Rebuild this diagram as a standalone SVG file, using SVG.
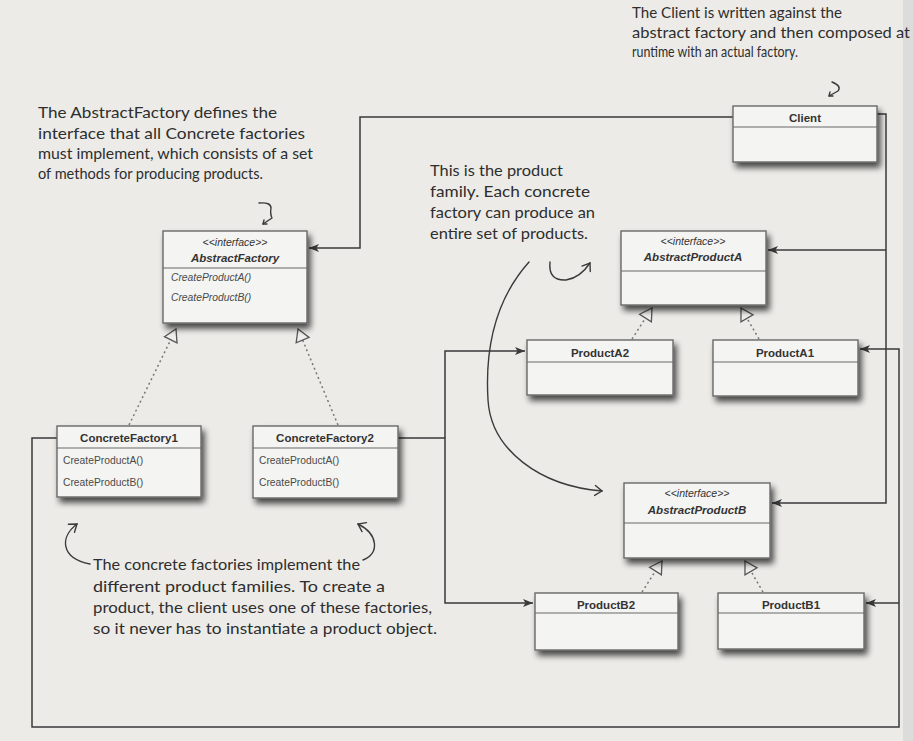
<svg xmlns="http://www.w3.org/2000/svg" width="913" height="741" viewBox="0 0 913 741">
<defs>
<filter id="sh" x="-10%" y="-10%" width="130%" height="140%">
<feGaussianBlur in="SourceAlpha" stdDeviation="3"/>
<feOffset dx="3" dy="5" result="b"/>
<feComponentTransfer><feFuncA type="linear" slope="0.7"/></feComponentTransfer>
<feMerge><feMergeNode/><feMergeNode in="SourceGraphic"/></feMerge>
</filter>
<marker id="arr" markerUnits="userSpaceOnUse" markerWidth="12" markerHeight="10" refX="10" refY="4" orient="auto" overflow="visible">
<path d="M0,0 L10,4 L0,8 L2.5,4 z" fill="#3a3a3a"/>
</marker>
<marker id="tri" markerUnits="userSpaceOnUse" markerWidth="16" markerHeight="16" refX="12" refY="7" orient="auto" overflow="visible">
<path d="M0,0 L12,7 L0,14 z" fill="#eeeeec" stroke="#555" stroke-width="1.3"/>
</marker>
<marker id="hh" markerUnits="userSpaceOnUse" markerWidth="12" markerHeight="12" refX="0" refY="0" orient="auto" overflow="visible">
<path d="M-7,-5 L0,0 L-7,5" fill="none" stroke="#3a3a3a" stroke-width="1.4" stroke-linecap="round"/>
</marker>
</defs>
<style>
.box{fill:#f4f4f2;stroke:#686868;stroke-width:1.4;filter:url(#sh)}
.sep{stroke:#686868;stroke-width:1.2}
.ttl{font-family:"Liberation Sans",Arial,sans-serif;font-weight:bold;font-size:11.5px;fill:#333;text-anchor:middle}
.ster{font-family:"Liberation Sans",Arial,sans-serif;font-style:italic;font-size:10.5px;fill:#333;text-anchor:middle}
.aname{font-family:"Liberation Sans",Arial,sans-serif;font-style:italic;font-weight:bold;font-size:11.5px;fill:#333;text-anchor:middle}
.meth{font-family:"Liberation Sans",Arial,sans-serif;font-size:10.3px;fill:#4a4a4a}
.imeth{font-family:"Liberation Sans",Arial,sans-serif;font-style:italic;font-size:10.3px;fill:#4a4a4a}
.hand{font-family:"Lato","Open Sans",sans-serif;font-size:15px;fill:#2e2e2e}
.wire{fill:none;stroke:#3a3a3a;stroke-width:1.5}
.real{fill:none;stroke:#777;stroke-width:1.5;stroke-dasharray:2 3}
.pen{fill:none;stroke:#3a3a3a;stroke-width:1.4;stroke-linecap:round;stroke-linejoin:round}
</style>
<rect x="0" y="0" width="913" height="741" fill="#ecebe8"/>
<rect x="903" y="0" width="10" height="741" fill="#dcdcda"/>

<g id="connectors">
<path class="wire" d="M733,117 H360 V248 H309" marker-end="url(#arr)"/>
<path class="wire" d="M877,114 H886 V503 H772" marker-end="url(#arr)"/>
<path class="wire" d="M886,250 H768" marker-end="url(#arr)"/>
<path class="wire" d="M57,438 H32 V727 H899 V349 H860" marker-end="url(#arr)"/>
<path class="wire" d="M899,603 H866" marker-end="url(#arr)"/>
<path class="wire" d="M398,438 H445 V603 H533" marker-end="url(#arr)"/>
<path class="wire" d="M445,438 V351 H525" marker-end="url(#arr)"/>
<path class="real" d="M129,425 L176,329" marker-end="url(#tri)"/>
<path class="real" d="M338,425 L298,329" marker-end="url(#tri)"/>
<path class="real" d="M632,339 L652,308" marker-end="url(#tri)"/>
<path class="real" d="M759,339 L741,308" marker-end="url(#tri)"/>
<path class="real" d="M642,592 L662,561" marker-end="url(#tri)"/>
<path class="real" d="M763,592 L745,561" marker-end="url(#tri)"/>
</g>

<g id="Client">
<rect class="box" x="733" y="106" width="144" height="56"/>
<line class="sep" x1="733" y1="127" x2="877" y2="127"/>
<text class="ttl" x="805" y="122">Client</text>
</g>
<g id="AbstractFactory">
<rect class="box" x="163" y="231" width="144" height="92"/>
<line class="sep" x1="163" y1="268" x2="307" y2="268"/>
<text class="ster" x="235" y="246">&lt;&lt;interface&gt;&gt;</text>
<text class="aname" x="235" y="262">AbstractFactory</text>
<text class="imeth" x="171" y="281">CreateProductA()</text>
<text class="imeth" x="171" y="301">CreateProductB()</text>
</g>
<g id="AbstractProductA">
<rect class="box" x="621" y="231" width="145" height="74"/>
<line class="sep" x1="621" y1="271" x2="766" y2="271"/>
<text class="ster" x="693" y="245">&lt;&lt;interface&gt;&gt;</text>
<text class="aname" x="693" y="261">AbstractProductA</text>
</g>
<g id="ProductA2">
<rect class="box" x="527" y="340" width="146" height="55"/>
<line class="sep" x1="527" y1="362" x2="673" y2="362"/>
<text class="ttl" x="600" y="357">ProductA2</text>
</g>
<g id="ProductA1">
<rect class="box" x="713" y="340" width="145" height="56"/>
<line class="sep" x1="713" y1="362" x2="858" y2="362"/>
<text class="ttl" x="785" y="357">ProductA1</text>
</g>
<g id="ConcreteFactory1">
<rect class="box" x="57" y="426" width="144" height="71"/>
<line class="sep" x1="57" y1="448" x2="201" y2="448"/>
<text class="ttl" x="129" y="442">ConcreteFactory1</text>
<text class="meth" x="63" y="464">CreateProductA()</text>
<text class="meth" x="63" y="486">CreateProductB()</text>
</g>
<g id="ConcreteFactory2">
<rect class="box" x="253" y="426" width="145" height="72"/>
<line class="sep" x1="253" y1="448" x2="398" y2="448"/>
<text class="ttl" x="325" y="442">ConcreteFactory2</text>
<text class="meth" x="259" y="464">CreateProductA()</text>
<text class="meth" x="259" y="486">CreateProductB()</text>
</g>
<g id="AbstractProductB">
<rect class="box" x="624" y="483" width="146" height="75"/>
<line class="sep" x1="624" y1="523" x2="770" y2="523"/>
<text class="ster" x="697" y="497">&lt;&lt;interface&gt;&gt;</text>
<text class="aname" x="697" y="514">AbstractProductB</text>
</g>
<g id="ProductB2">
<rect class="box" x="535" y="593" width="143" height="57"/>
<line class="sep" x1="535" y1="613" x2="678" y2="613"/>
<text class="ttl" x="606" y="609">ProductB2</text>
</g>
<g id="ProductB1">
<rect class="box" x="718" y="593" width="146" height="56"/>
<line class="sep" x1="718" y1="613" x2="864" y2="613"/>
<text class="ttl" x="791" y="609">ProductB1</text>
</g>

<g id="note-abstractfactory">
<text class="hand" x="38" y="118" textLength="239" lengthAdjust="spacingAndGlyphs">The AbstractFactory defines the</text>
<text class="hand" x="38" y="139" textLength="267" lengthAdjust="spacingAndGlyphs">interface that all Concrete factories</text>
<text class="hand" x="38" y="159" textLength="275" lengthAdjust="spacingAndGlyphs">must implement, which consists of a set</text>
<text class="hand" x="38" y="179" textLength="225" lengthAdjust="spacingAndGlyphs">of methods for producing products.</text>
<path class="pen" d="M259,203 Q271,202 271,208 Q270,214 272,218 L263,224"/>
<path class="pen" d="M267,224 L263,224 L264,220"/>
</g>
<g id="note-client">
<text class="hand" x="632" y="18" textLength="210" lengthAdjust="spacingAndGlyphs">The Client is written against the</text>
<text class="hand" x="632" y="38" textLength="278" lengthAdjust="spacingAndGlyphs">abstract factory and then composed at</text>
<text class="hand" x="632" y="57" textLength="166" lengthAdjust="spacingAndGlyphs">runtime with an actual factory.</text>
<path class="pen" d="M832,82 Q842,86 838,91 L829,96"/>
<path class="pen" d="M833,96 L829,96 L830,92"/>
</g>
<g id="note-family">
<text class="hand" x="430" y="176" textLength="133" lengthAdjust="spacingAndGlyphs">This is the product</text>
<text class="hand" x="430" y="197" textLength="160" lengthAdjust="spacingAndGlyphs">family.  Each concrete</text>
<text class="hand" x="430" y="218" textLength="165" lengthAdjust="spacingAndGlyphs">factory can produce an</text>
<text class="hand" x="430" y="239" textLength="158" lengthAdjust="spacingAndGlyphs">entire set of products.</text>
<path class="pen" d="M550,262 Q548,281 566,280 Q580,278 590,263" marker-end="url(#hh)"/>
<path class="pen" d="M529,262 C495,300 485,350 488,400 C491,450 540,486 602,491" marker-end="url(#hh)"/>
</g>
<g id="note-concrete">
<text class="hand" x="93" y="570" textLength="267" lengthAdjust="spacingAndGlyphs">The concrete factories implement the</text>
<text class="hand" x="93" y="592" textLength="292" lengthAdjust="spacingAndGlyphs">different product families.  To create a</text>
<text class="hand" x="93" y="613" textLength="339" lengthAdjust="spacingAndGlyphs">product, the client uses one of these factories,</text>
<text class="hand" x="93" y="634" textLength="344" lengthAdjust="spacingAndGlyphs">so it never has to instantiate a product object.</text>
<path class="pen" d="M90,564 C60,558 60,537 77,524" marker-end="url(#hh)"/>
<path class="pen" d="M363,560 C380,553 378,534 358,524" marker-end="url(#hh)"/>
</g>
</svg>
